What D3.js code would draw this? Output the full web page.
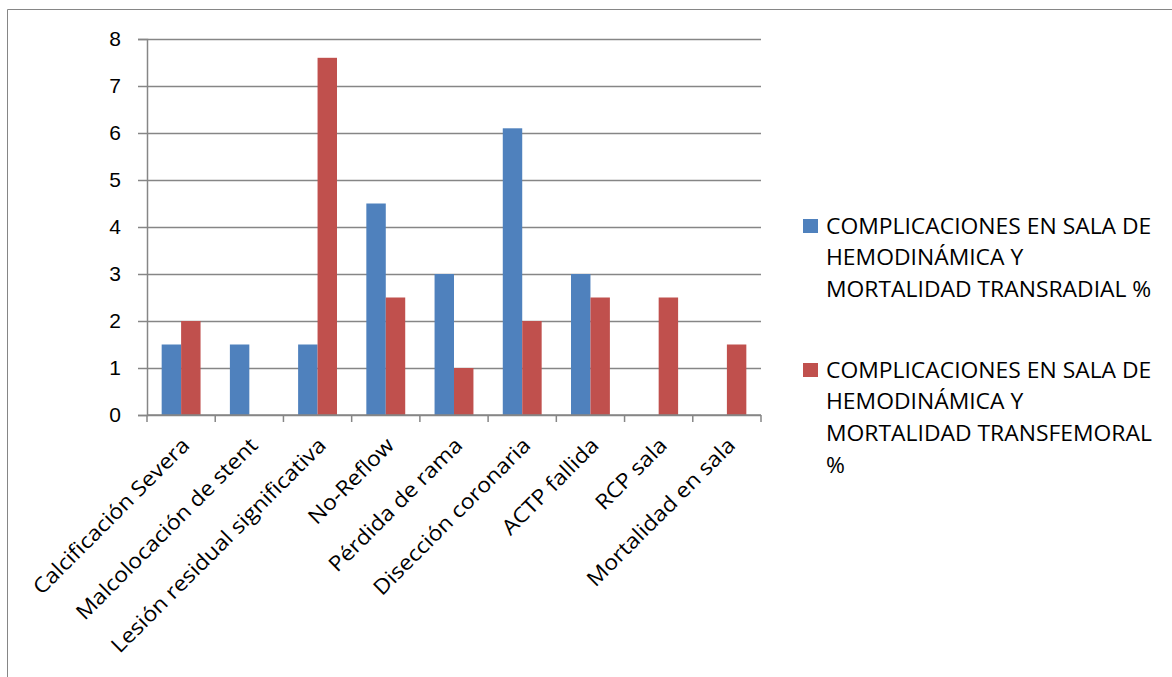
<!DOCTYPE html>
<html>
<head>
<meta charset="utf-8">
<script src="https://cdn.jsdelivr.net/npm/d3@7"></script>
<style>
  body { margin: 0; background: #fff; }
  svg { display: block; font-family: "Open Sans", sans-serif; }
  .grid line { stroke: #868686; stroke-width: 1.5; }
  .grid path { display: none; }
  .axis path, .axis line { stroke: #868686; stroke-width: 1.5; }
  .axis text { fill: #000; }
</style>
</head>
<body>
<div id="chart"></div>
<script>
const categories = [
  'Calcificación Severa', 'Malcolocación de stent', 'Lesión residual significativa',
  'No-Reflow', 'Pérdida de rama', 'Disección coronaria', 'ACTP fallida',
  'RCP sala', 'Mortalidad en sala'
]
const transradial = [1.5, 1.5, 1.5, 4.5, 3, 6.1, 3, 0, 0]
const transfemoral = [2, 0, 7.6, 2.5, 1, 2, 2.5, 2.5, 1.5]
const yTicks = [0, 1, 2, 3, 4, 5, 6, 7, 8]
const seriesNames = [
  ['COMPLICACIONES EN SALA DE', 'HEMODINÁMICA Y', 'MORTALIDAD TRANSRADIAL %'],
  ['COMPLICACIONES EN SALA DE', 'HEMODINÁMICA Y', 'MORTALIDAD TRANSFEMORAL', '%']
]
const colors = ['#4f81bd', '#c0504d']

const width = 1172
const height = 677
const margin = { top: 39, right: 411, bottom: 262, left: 147 }
const innerWidth = width - margin.left - margin.right
const innerHeight = height - margin.top - margin.bottom

const svg = d3.select('#chart')
  .append('svg')
  .attr('width', width)
  .attr('height', height)

// Chart border (right and bottom edges fall outside the picture)
svg.append('path')
  .attr('d', `M7.5,${height}V9.5H${width}`)
  .attr('fill', 'none')
  .attr('stroke', '#868686')
  .attr('stroke-width', 1)

const g = svg.append('g')
  .attr('transform', `translate(${margin.left}, ${margin.top})`)

const x = d3.scaleBand().domain(categories).range([0, innerWidth])
const y = d3.scaleLinear().domain([0, 8]).range([innerHeight, 0])
const barW = x.bandwidth() * 0.285
const xSub = d3.scaleBand().domain([0, 1]).range([0, barW * 2])

// Gridlines
const grid = g.append('g')
  .attr('class', 'grid')
  .call(d3.axisLeft(y).tickValues(yTicks).tickSize(-innerWidth).tickFormat(''))
grid.selectAll('text').remove()

// Bars
const series = [transradial, transfemoral]
series.forEach((vals, si) => {
  g.append('g').selectAll('rect')
    .data(vals.map((v, i) => ({ v, c: categories[i] })).filter(d => d.v > 0))
    .join('rect')
    .attr('x', d => x(d.c) + x.bandwidth() / 2 - barW + xSub(si))
    .attr('y', d => y(d.v))
    .attr('width', xSub.bandwidth())
    .attr('height', d => innerHeight - y(d.v))
    .attr('fill', colors[si])
})

// Y axis
const yAxis = g.append('g')
  .attr('class', 'axis')
  .call(d3.axisLeft(y).tickValues(yTicks).tickSize(9).tickPadding(17))
yAxis.selectAll('text').style('font-size', '21px')

// X axis with ticks at category boundaries
const xAxis = g.append('g')
  .attr('class', 'axis')
  .attr('transform', `translate(0, ${innerHeight})`)
xAxis.append('path')
  .attr('d', `M0,0H${innerWidth}`)
xAxis.selectAll('line')
  .data(d3.range(categories.length + 1))
  .join('line')
  .attr('x1', i => i * x.step()).attr('x2', i => i * x.step())
  .attr('y1', 0).attr('y2', 7)

// Category labels, slanted
g.append('g')
  .selectAll('text')
  .data(categories)
  .join('text')
  .attr('transform', d => `translate(${x(d) + x.bandwidth() / 2 - 1}, ${innerHeight + 21}) rotate(-45) scale(1.1, 1)`)
  .attr('text-anchor', 'end')
  .attr('dy', '0.72em')
  .style('font-size', '21px')
  .text(d => d)

// Legend
const legendTops = [226, 370]
seriesNames.forEach((lines, si) => {
  const lg = svg.append('g').attr('transform', `translate(803, ${legendTops[si]})`)
  lg.append('rect')
    .attr('x', 0).attr('y', -7)
    .attr('width', 15).attr('height', 14)
    .attr('fill', colors[si])
  lg.selectAll('text')
    .data(lines)
    .join('text')
    .attr('transform', (d, i) => `translate(23, ${i * 31.7}) scale(1.09, 1)`)
    .attr('dy', '0.36em')
    .style('font-size', '21px')
    .text(d => d)
})
</script>
</body>
</html>
